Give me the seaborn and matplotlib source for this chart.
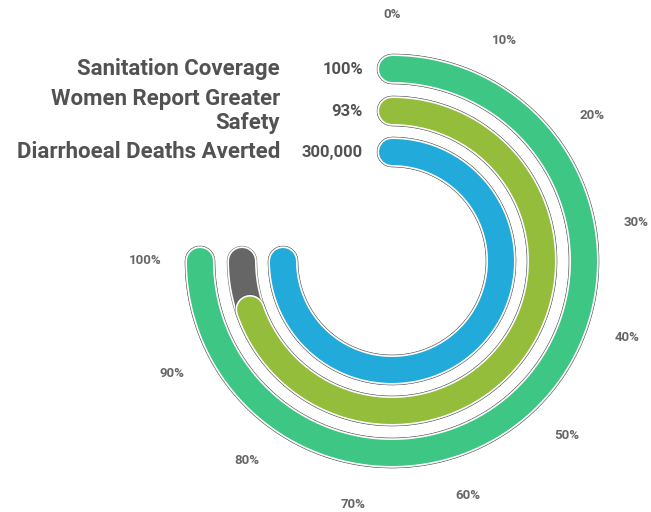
import numpy as np
import matplotlib
matplotlib.use("Agg")
import matplotlib.pyplot as plt
import matplotlib.patheffects as pe
import seaborn as sns

# Radial progress bars: one ring per indicator, 0-100% mapped onto 270 degrees
categories = ["Sanitation Coverage", "Women Report Greater\nSafety", "Diarrhoeal Deaths Averted"]
values = [100, 93, 300000]
maxima = [100, 100, 300000]
value_labels = ["100%", "93%", "300,000"]
tick_values = [0, 10, 20, 30, 40, 50, 60, 70, 80, 90, 100]
tick_labels = ["0%", "10%", "20%", "30%", "40%", "50%", "60%", "70%", "80%", "90%", "100%"]

sns.set_theme(style="white")
plt.rcParams["font.family"] = ["Roboto", "DejaVu Sans"]

palette = sns.color_palette(["#3ec784", "#93bd3a", "#22aadb"])
track_color = "#666666"
text_color = "#525252"

W, H, DPI = 651, 512, 100
fig = plt.figure(figsize=(W / DPI, H / DPI), dpi=DPI)
fig.patch.set_facecolor("white")

cx, cy, half = 392, 261, 250
ax = fig.add_axes([(cx - half) / W, (H - cy - half) / H, 2 * half / W, 2 * half / H],
                  projection="polar")
ax.set_theta_zero_location("N")
ax.set_theta_direction(-1)
ax.set_rlim(0, half)
ax.axis("off")

span = 1.5 * np.pi          # 270 degrees of sweep
radii = [192, 150, 109]
band_px = 26
lw = band_px * 72 / DPI


def effects(width):
    return [pe.Stroke(linewidth=width + 3.2, foreground="#4a4a4a", alpha=0.75),
            pe.Stroke(linewidth=width + 2.4, foreground="white"),
            pe.Normal()]


for i, (cat, val, vmax, vlab) in enumerate(zip(categories, values, maxima, value_labels)):
    r = radii[i]
    # grey track for the full scale
    th_bg = np.linspace(0, span, 300)
    ax.plot(th_bg, np.full_like(th_bg, r), color=track_color, lw=lw,
            solid_capstyle="round", path_effects=effects(lw), zorder=2 + 2 * i)
    # coloured progress arc
    th = np.linspace(0, span * val / vmax, 300)
    ax.plot(th, np.full_like(th, r), color=palette[i], lw=lw,
            solid_capstyle="round", path_effects=effects(lw), zorder=3 + 2 * i)

    ax.annotate(vlab, xy=(0, r), xytext=(-29, 0), textcoords="offset pixels",
                ha="right", va="center", fontsize=12, fontweight="bold",
                color=text_color, annotation_clip=False)
    ax.annotate(cat, xy=(0, r), xytext=(-112, 0), textcoords="offset pixels",
                ha="right", va="center", multialignment="right", linespacing=1.15,
                fontsize=16, fontweight="bold", color=text_color, annotation_clip=False)

# angular scale labels
for tv, tl in zip(tick_values, tick_labels):
    ax.text(span * tv / 100, 247, tl, ha="center", va="center", fontsize=9.5,
            fontweight="bold", color="#666666", clip_on=False)

fig.savefig("out.png", dpi=DPI, facecolor="white")
